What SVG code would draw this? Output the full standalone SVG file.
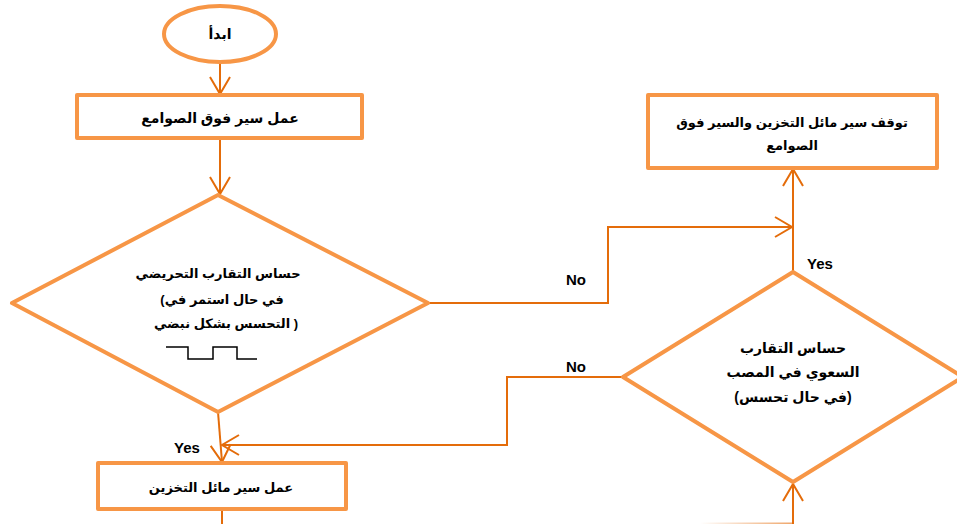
<svg xmlns="http://www.w3.org/2000/svg" width="957" height="524" viewBox="0 0 957 524">
<style>
.node{fill:#fff;stroke:#F79646;stroke-width:4;stroke-linejoin:round}
.conn{fill:none;stroke:#E46C0A;stroke-width:2}
.t{font-family:"Liberation Sans","DejaVu Sans",Arial,sans-serif;font-weight:bold;font-size:14px;fill:#000;text-anchor:middle;direction:ltr;unicode-bidi:embed}
.s{font-size:13px}
.lbl{font-family:"Liberation Sans",Arial,sans-serif;font-weight:bold;font-size:15px;fill:#000;text-anchor:middle}
</style>
<defs>
<marker id="arr" markerUnits="userSpaceOnUse" markerWidth="22" markerHeight="24" refX="18" refY="11" orient="auto">
<path d="M1,1 L18,11 L1,21" fill="none" stroke="#E46C0A" stroke-width="2"/>
</marker>
<linearGradient id="fade" x1="0" x2="1" y1="0" y2="0">
<stop offset="0" stop-color="#E46C0A" stop-opacity="0"/>
<stop offset="1" stop-color="#E46C0A" stop-opacity="0.6"/>
</linearGradient>
</defs>
<rect width="957" height="524" fill="#fff"/>
<g id="connectors">
<path class="conn" d="M220,63 L220,94" marker-end="url(#arr)"/>
<path class="conn" d="M220,138 L220,194" marker-end="url(#arr)"/>
<path class="conn" d="M428,303 L608,303 L608,227 L792,227" marker-end="url(#arr)"/>
<path class="conn" d="M793,272 L793,169" marker-end="url(#arr)"/>
<path class="conn" d="M623,377 L507,377 L507,445 L222,445" marker-end="url(#arr)"/>
<path class="conn" d="M218,412 L222,462" marker-end="url(#arr)"/>
<path class="conn" d="M222,509 L222,524"/>
<path class="conn" d="M793,524 L793,484" marker-end="url(#arr)"/>
<rect x="700" y="522.5" width="92" height="1.5" fill="url(#fade)"/>
<text class="lbl" x="576" y="285">No</text>
<text class="lbl" x="576" y="372">No</text>
<text class="lbl" x="820" y="269">Yes</text>
<text class="lbl" x="187" y="453">Yes</text>
</g>
<g id="start">
<ellipse class="node" cx="220" cy="34" rx="56" ry="28"/>
<text class="t" x="220" y="39" font-size="12">ابدأ</text>
</g>
<g id="conveyor-run">
<rect class="node" x="77" y="95" width="285" height="43"/>
<text class="t" x="220" y="123">عمل سير فوق الصوامع</text>
</g>
<g id="inductive-sensor">
<polygon class="node" points="218,195 428,303 218,412 12,303"/>
<text class="t s" x="218" y="278">حساس التقارب التحريضي</text>
<text class="t s" x="222" y="304">(في حال استمر في</text>
<text class="t s" x="226" y="328">التحسس بشكل نبضي )</text>
<path d="M166,347 L188,347 L188,359 L213,359 L213,347 L237,347 L237,359 L257,359" fill="none" stroke="#000" stroke-width="1.5"/>
</g>
<g id="stop-conveyors">
<rect class="node" x="648" y="95" width="289" height="73"/>
<text class="t s" x="792" y="127">توقف سير مائل التخزين والسير فوق</text>
<text class="t s" x="792" y="150">الصوامع</text>
</g>
<g id="capacitive-sensor">
<polygon class="node" points="793,272 963,377 793,482 623,377"/>
<text class="t" x="793" y="353">حساس التقارب</text>
<text class="t" x="793" y="377">السعوي في المصب</text>
<text class="t" x="793" y="402">(في حال تحسس)</text>
</g>
<g id="incline-run">
<rect class="node" x="98" y="463" width="248" height="46"/>
<text class="t s" x="221" y="492">عمل سير مائل التخزين</text>
</g>
</svg>
